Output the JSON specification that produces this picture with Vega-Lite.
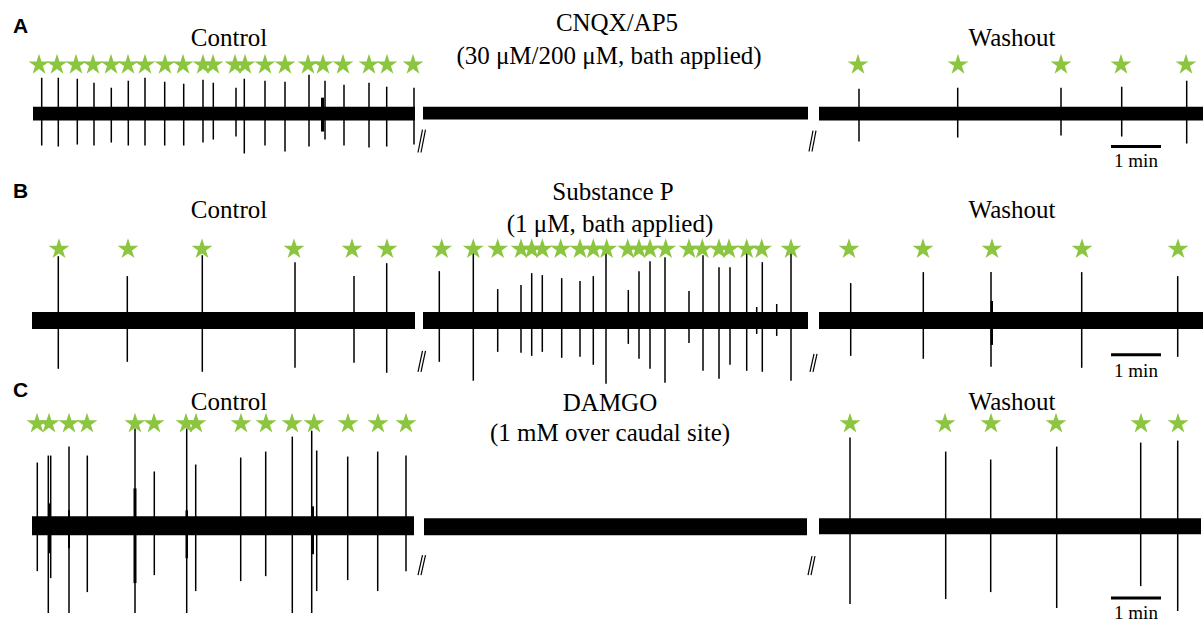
{
  "$schema": "https://vega.github.io/schema/vega-lite/v6.json",
  "width": 1203,
  "height": 623,
  "autosize": {"type": "fit", "contains": "padding"},
  "padding": 0,
  "background": "white",
  "config": {"view": {"stroke": null}},
  "datasets": {
    "bands": [
      {"row": "A", "panel": "Control", "x": 33, "x2": 415, "y": 107, "y2": 121},
      {"row": "A", "panel": "CNQX/AP5", "x": 423, "x2": 808, "y": 107, "y2": 120},
      {"row": "A", "panel": "Washout", "x": 819, "x2": 1203, "y": 107, "y2": 121},
      {"row": "B", "panel": "Control", "x": 32, "x2": 415, "y": 313, "y2": 330},
      {"row": "B", "panel": "Substance P", "x": 423, "x2": 808, "y": 313, "y2": 330},
      {"row": "B", "panel": "Washout", "x": 819, "x2": 1203, "y": 313, "y2": 330},
      {"row": "C", "panel": "Control", "x": 32, "x2": 414, "y": 518, "y2": 537},
      {"row": "C", "panel": "DAMGO", "x": 424, "x2": 807, "y": 520, "y2": 537},
      {"row": "C", "panel": "Washout", "x": 819, "x2": 1201, "y": 520, "y2": 536}
    ],
    "bursts": [
      {"x": 321, "x2": 324, "y": 98, "y2": 132},
      {"x": 48.5, "x2": 50.5, "y": 505, "y2": 555},
      {"x": 68, "x2": 70, "y": 512, "y2": 550},
      {"x": 133.5, "x2": 136.5, "y": 490, "y2": 585},
      {"x": 185.5, "x2": 188, "y": 512, "y2": 560},
      {"x": 311, "x2": 314, "y": 508, "y2": 556},
      {"x": 990.5, "x2": 993, "y": 302, "y2": 346}
    ],
    "spikes": [
      {"x": 41.7, "top": 78, "bottom": 146}, {"x": 58.3, "top": 78, "bottom": 147},
      {"x": 77.3, "top": 79, "bottom": 145}, {"x": 94, "top": 83, "bottom": 146},
      {"x": 111.3, "top": 88, "bottom": 143}, {"x": 128.3, "top": 81, "bottom": 146},
      {"x": 145, "top": 78, "bottom": 146}, {"x": 164.7, "top": 82, "bottom": 146},
      {"x": 183.7, "top": 84, "bottom": 146}, {"x": 203, "top": 80, "bottom": 143},
      {"x": 213.3, "top": 83, "bottom": 140}, {"x": 236, "top": 88, "bottom": 137},
      {"x": 244.3, "top": 79, "bottom": 154}, {"x": 265, "top": 81, "bottom": 146},
      {"x": 285, "top": 82, "bottom": 152}, {"x": 309, "top": 75, "bottom": 147},
      {"x": 325, "top": 81, "bottom": 140}, {"x": 344, "top": 85, "bottom": 146},
      {"x": 369, "top": 83, "bottom": 148}, {"x": 386.7, "top": 87, "bottom": 147},
      {"x": 414, "top": 88, "bottom": 145},
      {"x": 859, "top": 89, "bottom": 142}, {"x": 957.7, "top": 88, "bottom": 138},
      {"x": 1061, "top": 88, "bottom": 136}, {"x": 1121.7, "top": 87, "bottom": 137},
      {"x": 1186.7, "top": 81, "bottom": 144},
      {"x": 58.3, "top": 257, "bottom": 370}, {"x": 127.3, "top": 277, "bottom": 363},
      {"x": 202.3, "top": 256, "bottom": 373}, {"x": 295, "top": 263, "bottom": 369},
      {"x": 354, "top": 277, "bottom": 364}, {"x": 386.7, "top": 264, "bottom": 374},
      {"x": 439.3, "top": 272, "bottom": 363}, {"x": 473.3, "top": 248, "bottom": 382},
      {"x": 497.7, "top": 290, "bottom": 353}, {"x": 521, "top": 286, "bottom": 354},
      {"x": 531.7, "top": 274, "bottom": 357}, {"x": 542.3, "top": 276, "bottom": 353},
      {"x": 561.7, "top": 279, "bottom": 359}, {"x": 580, "top": 282, "bottom": 358},
      {"x": 593.3, "top": 277, "bottom": 366}, {"x": 606, "top": 252, "bottom": 385},
      {"x": 628.3, "top": 291, "bottom": 345}, {"x": 639, "top": 272, "bottom": 360},
      {"x": 650, "top": 262, "bottom": 370}, {"x": 665, "top": 258, "bottom": 384},
      {"x": 689, "top": 292, "bottom": 344}, {"x": 703, "top": 256, "bottom": 372},
      {"x": 719, "top": 268, "bottom": 380}, {"x": 730, "top": 268, "bottom": 366},
      {"x": 746.7, "top": 252, "bottom": 372}, {"x": 756.7, "top": 308, "bottom": 335},
      {"x": 762.3, "top": 263, "bottom": 373}, {"x": 776.7, "top": 305, "bottom": 337},
      {"x": 791, "top": 252, "bottom": 382},
      {"x": 850.7, "top": 284, "bottom": 357}, {"x": 923.3, "top": 273, "bottom": 360},
      {"x": 991, "top": 273, "bottom": 368}, {"x": 1081.7, "top": 273, "bottom": 369},
      {"x": 1177.7, "top": 277, "bottom": 358},
      {"x": 37.3, "top": 464, "bottom": 573}, {"x": 48.3, "top": 457, "bottom": 615},
      {"x": 50.7, "top": 457, "bottom": 580}, {"x": 69, "top": 448, "bottom": 615},
      {"x": 87.3, "top": 457, "bottom": 594}, {"x": 135, "top": 430, "bottom": 615},
      {"x": 154.3, "top": 473, "bottom": 577}, {"x": 186.7, "top": 430, "bottom": 615},
      {"x": 195.7, "top": 466, "bottom": 593}, {"x": 240.7, "top": 459, "bottom": 583},
      {"x": 265.7, "top": 453, "bottom": 578}, {"x": 292.3, "top": 438, "bottom": 615},
      {"x": 311.7, "top": 432, "bottom": 615}, {"x": 316.7, "top": 452, "bottom": 593},
      {"x": 347.7, "top": 458, "bottom": 582}, {"x": 377.7, "top": 453, "bottom": 593},
      {"x": 406, "top": 457, "bottom": 573},
      {"x": 850, "top": 439, "bottom": 606}, {"x": 945.7, "top": 453, "bottom": 601},
      {"x": 990.7, "top": 461, "bottom": 594}, {"x": 1056.7, "top": 448, "bottom": 610},
      {"x": 1140.7, "top": 444, "bottom": 588}, {"x": 1177.7, "top": 442, "bottom": 613}
    ],
    "stars": [
      {"x": 39, "y": 65}, {"x": 57, "y": 65}, {"x": 76, "y": 65}, {"x": 93, "y": 65},
      {"x": 111, "y": 65}, {"x": 128, "y": 65}, {"x": 145, "y": 65}, {"x": 165, "y": 65},
      {"x": 183, "y": 65}, {"x": 203, "y": 65}, {"x": 213, "y": 65}, {"x": 235, "y": 65},
      {"x": 245, "y": 65}, {"x": 265, "y": 65}, {"x": 285, "y": 65}, {"x": 308, "y": 65},
      {"x": 323, "y": 65}, {"x": 343, "y": 65}, {"x": 369, "y": 65}, {"x": 387, "y": 65},
      {"x": 413, "y": 65},
      {"x": 858, "y": 65}, {"x": 958, "y": 65}, {"x": 1061, "y": 65}, {"x": 1121, "y": 65},
      {"x": 1186, "y": 65},
      {"x": 59, "y": 250}, {"x": 128, "y": 250}, {"x": 202, "y": 250}, {"x": 294, "y": 250},
      {"x": 352, "y": 250}, {"x": 387, "y": 250},
      {"x": 441.7, "y": 250}, {"x": 473.3, "y": 250}, {"x": 497.7, "y": 250}, {"x": 521, "y": 250},
      {"x": 531.7, "y": 250}, {"x": 542.3, "y": 250}, {"x": 560.7, "y": 250}, {"x": 580, "y": 250},
      {"x": 593.3, "y": 250}, {"x": 606.7, "y": 250}, {"x": 627.7, "y": 250}, {"x": 639, "y": 250},
      {"x": 650, "y": 250}, {"x": 665.7, "y": 250}, {"x": 689, "y": 250}, {"x": 702.3, "y": 250},
      {"x": 719, "y": 250}, {"x": 729, "y": 250}, {"x": 746.7, "y": 250}, {"x": 761.7, "y": 250},
      {"x": 791, "y": 250},
      {"x": 849, "y": 250}, {"x": 923, "y": 250}, {"x": 992, "y": 250}, {"x": 1082, "y": 250},
      {"x": 1178, "y": 250},
      {"x": 37, "y": 425}, {"x": 49, "y": 425}, {"x": 69, "y": 425}, {"x": 87, "y": 425},
      {"x": 135, "y": 425}, {"x": 154, "y": 425}, {"x": 186, "y": 425}, {"x": 196, "y": 425},
      {"x": 241, "y": 425}, {"x": 266, "y": 425}, {"x": 292, "y": 425}, {"x": 314, "y": 425},
      {"x": 348, "y": 425}, {"x": 378, "y": 425}, {"x": 406, "y": 425},
      {"x": 850, "y": 425}, {"x": 945, "y": 425}, {"x": 991, "y": 425}, {"x": 1056, "y": 425},
      {"x": 1141, "y": 425}, {"x": 1178, "y": 425}
    ],
    "breaks": [
      {"x": 418, "y": 153, "x2": 422.5, "y2": 130}, {"x": 421, "y": 153, "x2": 425.5, "y2": 130},
      {"x": 809, "y": 152, "x2": 813, "y2": 131}, {"x": 812, "y": 152, "x2": 816, "y2": 131},
      {"x": 418, "y": 373, "x2": 422.5, "y2": 352}, {"x": 421, "y": 373, "x2": 425.5, "y2": 352},
      {"x": 810, "y": 373, "x2": 814, "y2": 355}, {"x": 813, "y": 373, "x2": 817, "y2": 355},
      {"x": 418, "y": 577, "x2": 422.5, "y2": 557}, {"x": 421, "y": 577, "x2": 425.5, "y2": 557},
      {"x": 808, "y": 577, "x2": 812, "y2": 558}, {"x": 811, "y": 577, "x2": 815, "y2": 558}
    ],
    "scalebars": [
      {"x": 1111, "x2": 1161, "y": 147},
      {"x": 1111, "x2": 1161, "y": 356},
      {"x": 1111, "x2": 1161, "y": 600}
    ],
    "scaletext": [
      {"text": "1 min", "x": 1136, "y": 168},
      {"text": "1 min", "x": 1136, "y": 378},
      {"text": "1 min", "x": 1136, "y": 621}
    ],
    "letters": [
      {"text": "A", "x": 13, "y": 33},
      {"text": "B", "x": 13, "y": 199},
      {"text": "C", "x": 13, "y": 398}
    ],
    "titles": [
      {"text": "Control", "x": 229, "y": 46},
      {"text": "CNQX/AP5", "x": 617, "y": 31},
      {"text": "(30 μM/200 μM, bath applied)", "x": 609, "y": 64},
      {"text": "Washout", "x": 1012, "y": 46},
      {"text": "Control", "x": 229, "y": 219},
      {"text": "Substance P", "x": 613, "y": 201},
      {"text": "(1 μM, bath applied)", "x": 610, "y": 233},
      {"text": "Washout", "x": 1012, "y": 219},
      {"text": "Control", "x": 229, "y": 411},
      {"text": "DAMGO", "x": 610, "y": 412},
      {"text": "(1 mM over caudal site)", "x": 610, "y": 442},
      {"text": "Washout", "x": 1012, "y": 411}
    ]
  },
  "layer": [
    {
      "data": {"name": "bands"},
      "mark": {"type": "rect", "color": "black"},
      "encoding": {
        "x": {"field": "x", "type": "quantitative", "scale": {"domain": [0, 1203], "nice": false, "zero": false}, "axis": null},
        "x2": {"field": "x2"},
        "y": {"field": "y", "type": "quantitative", "scale": {"domain": [0, 623], "nice": false, "zero": false, "reverse": true}, "axis": null},
        "y2": {"field": "y2"}
      }
    },
    {
      "data": {"name": "bursts"},
      "mark": {"type": "rect", "color": "black"},
      "encoding": {
        "x": {"field": "x", "type": "quantitative"},
        "x2": {"field": "x2"},
        "y": {"field": "y", "type": "quantitative"},
        "y2": {"field": "y2"}
      }
    },
    {
      "data": {"name": "spikes"},
      "mark": {"type": "rule", "color": "black", "strokeWidth": 1.5},
      "encoding": {
        "x": {"field": "x", "type": "quantitative"},
        "y": {"field": "top", "type": "quantitative"},
        "y2": {"field": "bottom"}
      }
    },
    {
      "data": {"name": "stars"},
      "mark": {"type": "point", "filled": true, "opacity": 1, "color": "#8cc640", "strokeWidth": 0, "size": 480,
        "shape": "M0,-1L0.2245,-0.309L0.951,-0.309L0.363,0.118L0.588,0.809L0,0.382L-0.588,0.809L-0.363,0.118L-0.951,-0.309L-0.2245,-0.309Z"},
      "encoding": {
        "x": {"field": "x", "type": "quantitative"},
        "y": {"field": "y", "type": "quantitative"}
      }
    },
    {
      "data": {"name": "breaks"},
      "mark": {"type": "rule", "color": "black", "strokeWidth": 1.2},
      "encoding": {
        "x": {"field": "x", "type": "quantitative"},
        "y": {"field": "y", "type": "quantitative"},
        "x2": {"field": "x2"},
        "y2": {"field": "y2"}
      }
    },
    {
      "data": {"name": "scalebars"},
      "mark": {"type": "rule", "color": "black", "strokeWidth": 3},
      "encoding": {
        "x": {"field": "x", "type": "quantitative"},
        "x2": {"field": "x2"},
        "y": {"field": "y", "type": "quantitative"}
      }
    },
    {
      "data": {"name": "scaletext"},
      "mark": {"type": "text", "font": "Liberation Serif", "fontSize": 19, "align": "center", "baseline": "alphabetic", "color": "black"},
      "encoding": {
        "x": {"field": "x", "type": "quantitative"},
        "y": {"field": "y", "type": "quantitative"},
        "text": {"field": "text"}
      }
    },
    {
      "data": {"name": "letters"},
      "mark": {"type": "text", "font": "Liberation Sans", "fontWeight": "bold", "fontSize": 21, "align": "left", "baseline": "alphabetic", "color": "black"},
      "encoding": {
        "x": {"field": "x", "type": "quantitative"},
        "y": {"field": "y", "type": "quantitative"},
        "text": {"field": "text"}
      }
    },
    {
      "data": {"name": "titles"},
      "mark": {"type": "text", "font": "Liberation Serif", "fontSize": 25, "align": "center", "baseline": "alphabetic", "color": "black"},
      "encoding": {
        "x": {"field": "x", "type": "quantitative"},
        "y": {"field": "y", "type": "quantitative"},
        "text": {"field": "text"}
      }
    }
  ]
}
